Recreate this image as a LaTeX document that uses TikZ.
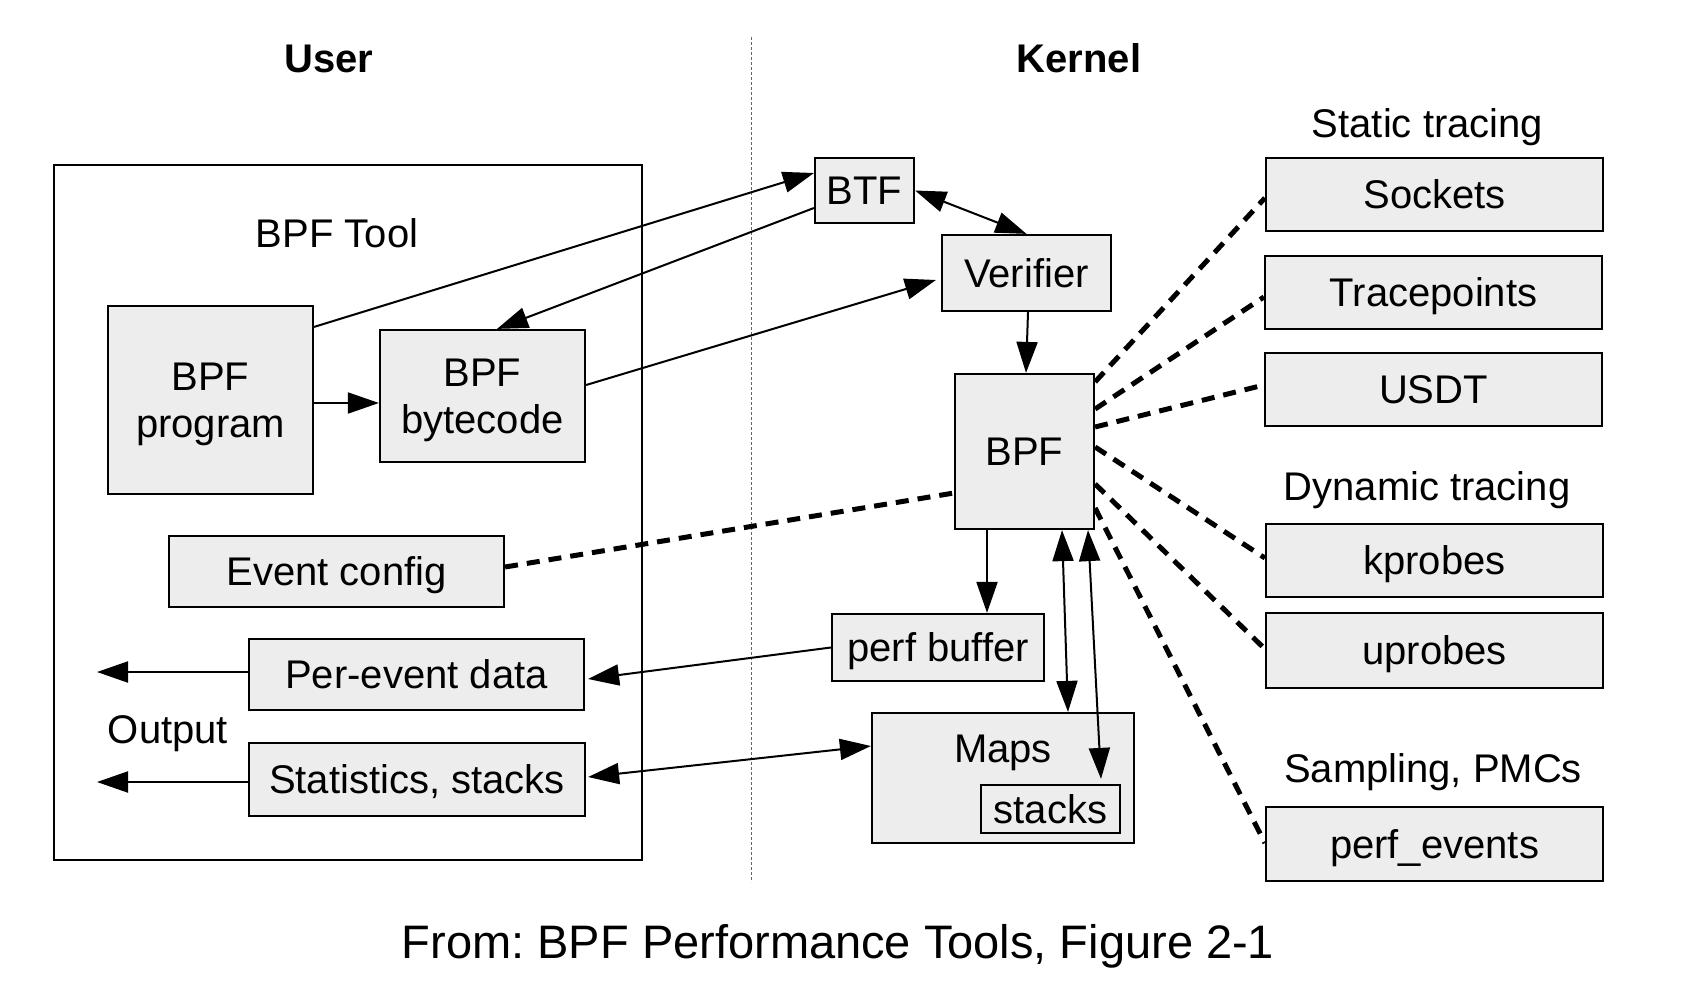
\documentclass[tikz,border=0pt]{standalone}
\usepackage{fontspec}
\setmainfont{Liberation Sans}
\usetikzlibrary{arrows.meta}
\definecolor{boxfill}{RGB}{237,237,237}
\frenchspacing
\begin{document}
\begin{tikzpicture}[x=1pt,y=-1pt,
  box/.style={draw=black, line width=2.2pt, fill=boxfill, inner sep=0pt,
    font=\fontsize{40}{47}\selectfont, text height=28.6pt, text depth=0pt},
  two/.style={align=center, text height=75.6pt, text depth=0pt},
  arr/.style={line width=2pt, -{Triangle[length=31pt,width=21pt]}},
  darr/.style={line width=2pt, {Triangle[length=31pt,width=21pt]}-{Triangle[length=31pt,width=21pt]}},
  dline/.style={line width=5pt, dash pattern=on 13pt off 9pt},
  lbl/.style={font=\fontsize{40}{47}\selectfont, anchor=base, inner sep=0pt},
]
\useasboundingbox (0,0) rectangle (1696,982);
\fill[white] (0,0) rectangle (1696,982);

% outer tool box
\node[draw=black, line width=2.2pt, minimum width=588pt, minimum height=695pt, inner sep=0pt] (tool) at (348,512.5) {};

% divider
\coordinate (divtop) at (751,37);
\coordinate (divbot) at (751,882);
\draw[black!60, line width=1pt, dash pattern=on 3pt off 2pt] (divtop) -- (divbot);

% titles
\node[lbl, font=\fontsize{40}{47}\selectfont\bfseries] (user) at (329,73) {User};
\node[lbl, font=\fontsize{40}{47}\selectfont\bfseries] (kernel) at (1079,73) {Kernel};
\node[lbl] (tooltitle) at (337,247) {BPF Tool};
\node[lbl] (output) at (168,743) {Output};
\node[lbl] (static) at (1427.5,137) {Static tracing};
\node[lbl] (dynamic) at (1427,500) {Dynamic tracing};
\node[lbl] (sampling) at (1433,782) {Sampling, PMCs};
\node[lbl, font=\fontsize{47}{50}\selectfont] (caption) at (838,958) {From: BPF Performance Tools, Figure 2-1};

% user side boxes
\node[box, two, minimum width=205pt, minimum height=188pt] (prog) at (210.5,400) {BPF\\program};
\node[box, two, minimum width=205pt, minimum height=132pt] (bytecode) at (482.5,396) {BPF\\bytecode};
\node[box, minimum width=335pt, minimum height=71pt] (evcfg) at (336.5,571.5) {Event config};
\node[box, minimum width=335pt, minimum height=71pt] (perev) at (416.5,674.5) {Per-event data};
\node[box, minimum width=336pt, minimum height=73pt] (stats) at (417,779.5) {Statistics, stacks};

% kernel boxes
\node[box, minimum width=99pt, minimum height=65pt] (btf) at (864.5,190.5) {BTF};
\node[box, minimum width=169pt, minimum height=76pt] (verif) at (1026.5,273) {Verifier};
\node[box, minimum width=139pt, minimum height=155pt] (bpf) at (1024.5,451.5) {BPF};
\node[box, minimum width=212pt, minimum height=67pt] (perfbuf) at (938,647.5) {perf buffer};
\node[box, minimum width=262pt, minimum height=130pt, text depth=60.6pt] (maps) at (1003,778) {Maps};
\node[box, minimum width=139pt, minimum height=48pt] (stacks) at (1050.5,809) {stacks};

% event sources
\node[box, minimum width=337pt, minimum height=73pt] (sockets) at (1434.5,194.5) {Sockets};
\node[box, minimum width=337pt, minimum height=73pt] (tracep) at (1433.5,292.5) {Tracepoints};
\node[box, minimum width=337pt, minimum height=73pt] (usdt) at (1433.5,389.5) {USDT};
\node[box, minimum width=337pt, minimum height=73pt] (kprobes) at (1434.5,560.5) {kprobes};
\node[box, minimum width=337pt, minimum height=75pt] (uprobes) at (1434.5,650.5) {uprobes};
\node[box, minimum width=337pt, minimum height=74pt] (perfev) at (1434.5,844) {perf\_events};

% output arrows
\coordinate (out1) at (97,672);
\coordinate (out2) at (97,782);
\draw[arr] ([yshift=2.5pt]perev.west) -- (out1);
\draw[arr] ([yshift=-2.5pt]stats.west) -- (out2);

% solid arrows
\draw[arr] ([yshift=-3pt]prog.east) -- ([yshift=-7pt]bytecode.west);
\draw[arr] ([yshift=-22pt]prog.north east) -- ([yshift=17.5pt]btf.west);
\draw[arr] ([yshift=-17.5pt]btf.west) -- ([xshift=14.5pt]bytecode.north);
\draw[darr] (btf.east) -- (verif.north);
\draw[arr] ([yshift=11pt]bytecode.east) -- ([xshift=-5pt,yshift=-7pt]verif.west);
\draw[arr] ([xshift=1.5pt]verif.south) -- ([xshift=1.5pt]bpf.north);
\draw[arr] ([xshift=-37.5pt]bpf.south) -- ([xshift=49pt]perfbuf.north);
\draw[arr] (perfbuf.west) -- ([xshift=3pt,yshift=-4.5pt]perev.east);
\draw[darr] ([xshift=2pt,yshift=2.5pt]stats.east) -- ([yshift=32pt]maps.west);
\draw[darr] ([xshift=37.5pt]bpf.south) -- ([xshift=65pt]maps.north);
\draw[darr] ([xshift=63.5pt]bpf.south) -- ([xshift=50.5pt,yshift=5pt]stacks.north);

% dashed links
\draw[dline] ([yshift=4.5pt]evcfg.east) -- ([yshift=-41.5pt]bpf.west);
\draw[dline] ([yshift=-9pt]bpf.north east) -- ([yshift=-3.5pt]sockets.west);
\draw[dline] ([yshift=42.5pt]bpf.east) -- ([yshift=-4.5pt]tracep.west);
\draw[dline] ([yshift=24.5pt]bpf.east) -- ([yshift=4.5pt]usdt.west);
\draw[dline] ([yshift=4.5pt]bpf.east) -- ([yshift=2.5pt]kprobes.west);
\draw[dline] ([yshift=-32.5pt]bpf.east) -- ([yshift=1.5pt]uprobes.west);
\draw[dline] ([yshift=-56.5pt]bpf.east) -- ([yshift=1pt]perfev.west);
\end{tikzpicture}
\end{document}
